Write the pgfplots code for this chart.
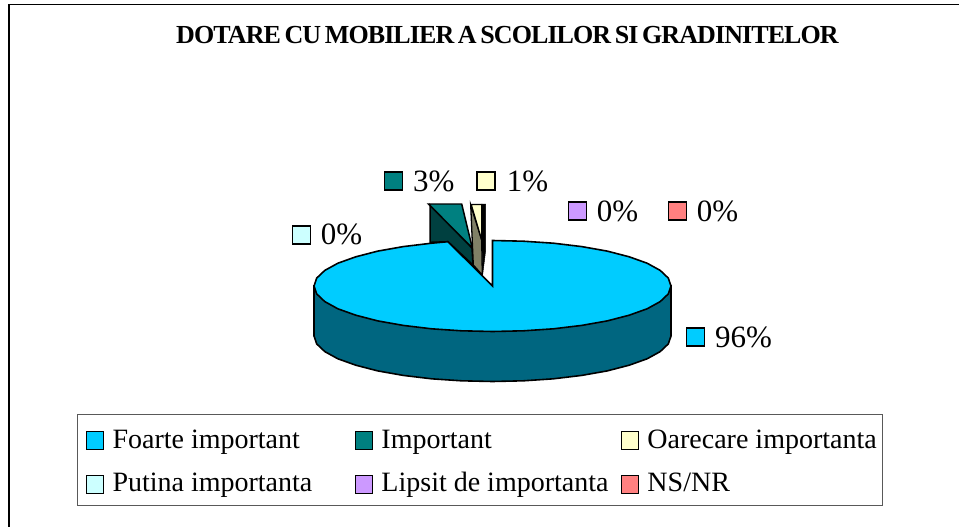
\documentclass[border=0pt]{standalone}
\usepackage{fontspec}
\setmainfont{Liberation Serif}
\newfontfamily\titlefont[LetterSpace=-3.5,WordSpace=0.65]{Liberation Serif}
\usepackage{pgfplots}
\pgfplotsset{compat=1.18}
\definecolor{cmain}{HTML}{00CCFF}
\definecolor{cside}{HTML}{006680}
\definecolor{cteal}{HTML}{008080}
\definecolor{cdteal}{HTML}{004040}
\definecolor{ccream}{HTML}{FFFFCC}
\definecolor{colive}{HTML}{808066}
\definecolor{cpale}{HTML}{CCFFFF}
\definecolor{clilac}{HTML}{CC99FF}
\definecolor{cred}{HTML}{FF8080}
\newcommand\lstrut{\rule[-15bp]{0pt}{37bp}}
\newcommand\lstrutb{\rule[-18bp]{0pt}{40bp}}
\pgfplotsset{
  swatch/.style={forget plot, only marks, mark=square*, mark size=9bp, mark options={fill=#1, draw=black, line width=1.2pt}},
  leg/.style={legend image code/.code={\path[draw=none] (0bp,0bp) -- (33bp,0bp);\draw[fill=#1, draw=black, line width=1.2pt] (9bp,-11.4bp) rectangle (26bp,6.6bp);}}
}
\begin{document}
\begin{tikzpicture}
\useasboundingbox (0,0) rectangle (959bp,527bp);
\begin{axis}[
  at={(0,0)}, anchor=south west, scale only axis,
  width=959bp, height=527bp,
  xmin=0, xmax=959, ymin=0, ymax=527, y dir=reverse,
  hide axis, clip=false,
  legend columns=3,
  legend cell align=left,
  legend style={
    at={(0.0803,0.2144)}, anchor=north west,
    font=\fontsize{28bp}{32bp}\selectfont,
    draw=black!65, line width=1pt, inner xsep=0pt, inner ysep=10bp,
    row sep=16bp, column sep=0pt,
  },
]
% legend
\addlegendimage{leg=cmain}\addlegendentry{\makebox[232bp][l]{\lstrut Foarte important}}
\addlegendimage{leg=cteal}\addlegendentry{\makebox[229bp][l]{\lstrut Important}}
\addlegendimage{leg=ccream}\addlegendentry{\makebox[233bp][l]{\lstrut Oarecare importanta}}
\addlegendimage{leg=cpale}\addlegendentry{\makebox[232bp][l]{\lstrutb Putina importanta}}
\addlegendimage{leg=clilac}\addlegendentry{\makebox[229bp][l]{\lstrutb Lipsit de importanta}}
\addlegendimage{leg=cred}\addlegendentry{\makebox[233bp][l]{\lstrutb NS/NR}}

% chart area border
\addplot[forget plot, black, line width=1.2pt] coordinates {(959,4.5)(9,4.5)(9,527)};

% 3% slice (exploded)
\addplot[forget plot, fill=cdteal, draw=black, line width=1.5pt] coordinates {(430,205)(472,248)(473,265)(448,241.7)(430,242.3)} -- cycle;
\addplot[forget plot, fill=cteal, draw=black, line width=1.5pt] coordinates {(428.5,204)(461.7,204)(472.3,248)} -- cycle;
% 1% slice (exploded)
\addplot[forget plot, fill=black, draw=black, line width=0.5pt] coordinates {(481.7,204)(485.7,204)(485.7,250)(482.5,276)} -- cycle;
\addplot[forget plot, fill=colive, draw=black, line width=1.3pt] coordinates {(470.7,205)(481.7,240)(482.3,275)(473.3,265)} -- cycle;
\addplot[forget plot, fill=ccream, draw=black, line width=1.3pt] coordinates {(471.2,204.5)(481.7,204.5)(481.7,240)} -- cycle;

% 96% slice: side wall
\addplot[forget plot, fill=cside, draw=black, line width=1.6pt] coordinates {
(314,286)(314,336)(316.7,343.9)(324.8,351.6)(337.9,358.8)(355.8,365.2)(377.8,370.9)(403.2,375.4)(431.5,378.8)(461.5,380.8)(492.5,381.5)
(523.5,380.8)(553.5,378.8)(581.8,375.4)(607.2,370.9)(629.2,365.2)(647.1,358.8)(660.2,351.6)(668.3,343.9)(671,336)(671,286)} -- cycle;
% 96% slice: top face
\addplot[forget plot, fill=cmain, draw=black, line width=1.6pt] coordinates {
(492.5,286)(492.5,240.5)(523.5,241.2)(553.5,243.2)(581.8,246.6)(607.2,251.1)(629.2,256.8)(647.1,263.2)(660.2,270.4)(668.3,278.1)(671,286)
(668.3,293.9)(660.2,301.6)(647.1,308.8)(629.2,315.2)(607.2,320.9)(581.8,325.4)(553.5,328.8)(523.5,330.8)(492.5,331.5)
(461.5,330.8)(431.5,328.8)(403.2,325.4)(377.8,320.9)(355.8,315.2)(337.9,308.8)(324.8,301.6)(316.7,293.9)(314,286)
(316.7,278.1)(324.8,270.4)(337.9,263.2)(355.8,256.8)(377.8,251.1)(403.2,246.6)(431.5,243.2)(448,241.7)} -- cycle;

% data label swatches
\addplot[swatch=cmain]  coordinates {(695.5,337)};
\addplot[swatch=cteal]  coordinates {(393.7,181)};
\addplot[swatch=ccream] coordinates {(486,181)};
\addplot[swatch=cpale]  coordinates {(301.7,235)};
\addplot[swatch=clilac] coordinates {(577.3,211)};
\addplot[swatch=cred]   coordinates {(677.7,211)};

\node[anchor=base west, inner sep=0pt, font=\fontsize{31bp}{31bp}\selectfont] at (axis cs:715,347) {96\%};
\node[anchor=base west, inner sep=0pt, font=\fontsize{31bp}{31bp}\selectfont] at (axis cs:413,191) {3\%};
\node[anchor=base west, inner sep=0pt, font=\fontsize{31bp}{31bp}\selectfont] at (axis cs:506.7,191) {1\%};
\node[anchor=base west, inner sep=0pt, font=\fontsize{31bp}{31bp}\selectfont] at (axis cs:320.7,244) {0\%};
\node[anchor=base west, inner sep=0pt, font=\fontsize{31bp}{31bp}\selectfont] at (axis cs:596.7,221) {0\%};
\node[anchor=base west, inner sep=0pt, font=\fontsize{31bp}{31bp}\selectfont] at (axis cs:696.7,221) {0\%};

% title
\node[anchor=base, inner sep=0pt, font=\titlefont\fontsize{26bp}{26bp}\selectfont\bfseries] at (axis cs:507.5,44) {DOTARE CU MOBILIER A SCOLILOR SI GRADINITELOR};
\end{axis}
\end{tikzpicture}
\end{document}
